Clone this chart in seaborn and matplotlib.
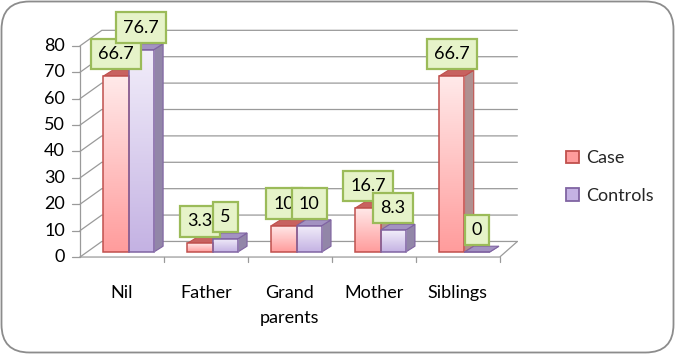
import numpy as np
import pandas as pd
import seaborn as sns
import matplotlib
matplotlib.use("Agg")
import matplotlib.pyplot as plt
from matplotlib.patches import Polygon, Patch, FancyBboxPatch
from matplotlib.colors import LinearSegmentedColormap

categories = ["Nil", "Father", "Grand\nparents", "Mother", "Siblings"]
groups = ["Case", "Controls"]
case_values = [66.7, 3.3, 10, 16.7, 66.7]
control_values = [76.7, 5, 10, 8.3, 0]
y_ticks = [0, 10, 20, 30, 40, 50, 60, 70, 80]

sns.set_theme(style="white")
plt.rcParams["font.family"] = ["Lato", "DejaVu Sans"]
FS = 13

df = pd.DataFrame({
    "category": categories * 2,
    "group": ["Case"] * len(categories) + ["Controls"] * len(categories),
    "value": case_values + control_values,
})

fig = plt.figure(figsize=(6.75, 3.54), dpi=100)
ax = fig.add_axes([0.1185, 0.2508, 0.648, 0.671])
ax.set_facecolor("none")

sns.barplot(data=df, x="category", y="value", hue="group", hue_order=groups,
            order=categories, palette=["#ffb3b3", "#d9cdee"], width=0.6,
            saturation=1, ax=ax, legend=False, errorbar=None)

grad = {"Case": ("#ff9c9c", "#ffeaea"), "Controls": ("#c4b2e3", "#f2eefa")}
edge = {"Case": "#c0504d", "Controls": "#8064a2"}
side = {"Case": "#b09090", "Controls": "#9286a8"}
topc = {"Case": "#c86260", "Controls": "#a392c2"}
shift = 0.08
dx, dy = 0.11, 2.2
FRONT, BACK = -1.9, 4.0
XR = 4.71

# 3D-ish walls / gridlines
gc = "#9a9a9a"
for v in y_ticks:
    ax.plot([-0.5, -0.5 + 0.26, XR], [v + FRONT, v + BACK, v + BACK],
            color=gc, lw=0.9, clip_on=False, zorder=1)
    ax.plot([-0.59, -0.5], [v + FRONT, v + FRONT], color=gc, lw=0.9,
            clip_on=False, zorder=1)
    ax.text(-0.68, v + FRONT, str(v), ha="right", va="center", fontsize=FS,
            color="black")
ax.plot([-0.5, -0.5], [FRONT, y_ticks[-1] + FRONT], color=gc, lw=0.9,
        clip_on=False, zorder=1)
ax.plot([-0.5, 4.5, XR], [FRONT, FRONT, BACK], color=gc, lw=0.9,
        clip_on=False, zorder=1)
for i in range(len(categories)):
    ax.plot([i + 0.5, i + 0.5], [FRONT, FRONT - 2.0], color=gc, lw=0.9,
            clip_on=False, zorder=1)

for g, cont in zip(groups, ax.containers):
    cmap = LinearSegmentedColormap.from_list(g, list(grad[g]))
    for bar in cont:
        bar.set_x(bar.get_x() + shift)
        x0, w, h = bar.get_x(), bar.get_width(), bar.get_height()
        x1 = x0 + w
        bar.set_facecolor("none")
        bar.set_edgecolor(edge[g])
        bar.set_linewidth(1.1)
        bar.set_zorder(4)
        sidep = Polygon([(x1, 0), (x1, h), (x1 + dx, h + dy), (x1 + dx, dy)],
                        closed=True, fc=side[g], ec=edge[g], lw=0.8, zorder=2)
        topp = Polygon([(x0, h), (x1, h), (x1 + dx, h + dy), (x0 + dx, h + dy)],
                       closed=True, fc=topc[g], ec=edge[g], lw=0.8, zorder=2)
        ax.add_patch(sidep)
        ax.add_patch(topp)
        if h > 0:
            img = ax.imshow(np.linspace(0, 1, 128).reshape(-1, 1), cmap=cmap,
                            origin="lower", extent=[x0, x1, 0, h],
                            aspect="auto", zorder=3)
            img.set_clip_path(bar)

# data labels
for g, cont in zip(groups, ax.containers):
    for bar in cont:
        h = bar.get_height()
        xc = bar.get_x() + bar.get_width() / 2
        lab = f"{h:g}"
        ax.annotate(lab, (xc, h), xytext=(0, 22), textcoords="offset pixels",
                    ha="center", va="center", fontsize=FS, color="black",
                    zorder=10,
                    bbox=dict(boxstyle="square,pad=0.4", fc="#e6f3c9",
                              ec="#9bbb59", lw=1.6))

ax.set_xlim(-0.5, XR)
ax.set_ylim(-5, 85)
ax.set_xticks(range(len(categories)))
ax.set_xticklabels(categories, fontsize=FS, color="black", linespacing=1.75)
ax.tick_params(axis="x", length=0, pad=14)
ax.set_yticks([])
ax.set_xlabel("")
ax.set_ylabel("")
for s in ax.spines.values():
    s.set_visible(False)

handles = [Patch(fc=grad[g][0], ec=edge[g], lw=1.3) for g in groups]
fig.legend(handles, groups, loc="center left", bbox_to_anchor=(0.815, 0.5),
           frameon=False, fontsize=FS, labelspacing=1.2, handlelength=0.7,
           handleheight=0.7, handletextpad=0.4)

fig.patches.append(FancyBboxPatch((0.015, 0.015), 6.72, 3.51,
                                  boxstyle="round,pad=0,rounding_size=0.28",
                                  transform=fig.dpi_scale_trans, fc="none",
                                  ec="#8c8c8c", lw=1.3))

fig.savefig("out.png", dpi=100)
